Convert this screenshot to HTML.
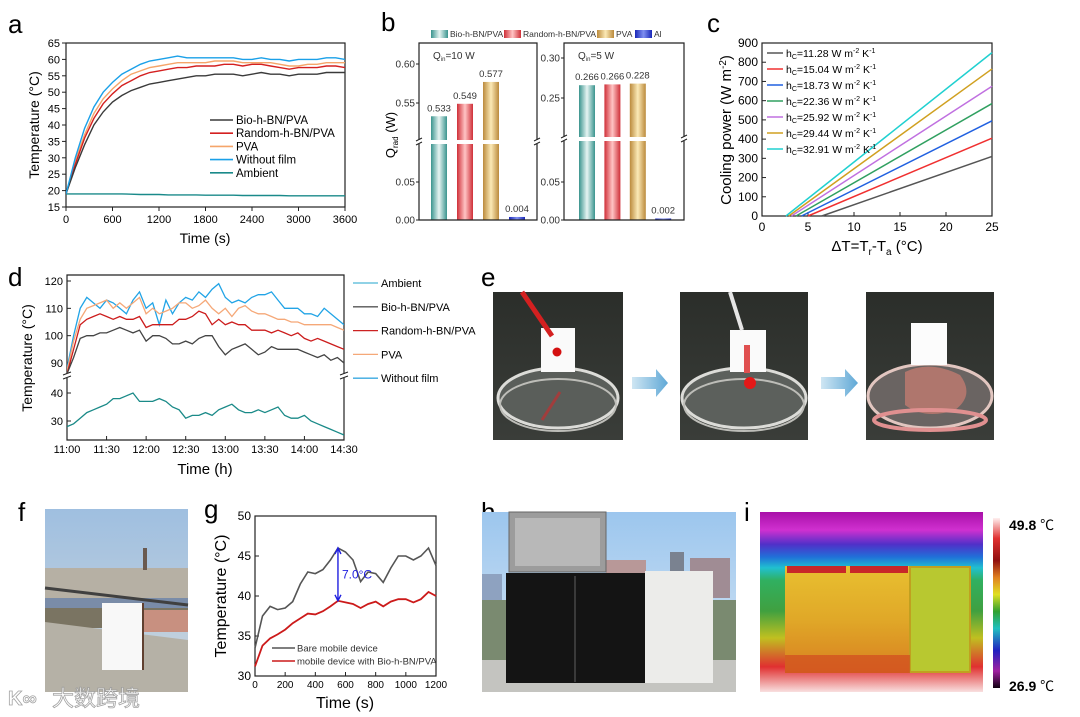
<!DOCTYPE html>
<html><head><meta charset="utf-8"><style>
html,body{margin:0;padding:0;background:#fff;}
svg{display:block;font-family:"Liberation Sans","Noto Sans CJK SC",sans-serif;}
</style></head><body>
<svg id="fig" width="1080" height="717" viewBox="0 0 1080 717" xmlns="http://www.w3.org/2000/svg">
<defs>
<linearGradient id="gTeal" x1="0" x2="1"><stop offset="0" stop-color="#3a948e"/><stop offset="0.5" stop-color="#e6f4f2"/><stop offset="1" stop-color="#3a948e"/></linearGradient>
<linearGradient id="gRed" x1="0" x2="1"><stop offset="0" stop-color="#cf2f38"/><stop offset="0.5" stop-color="#ffc4c4"/><stop offset="1" stop-color="#cf2f38"/></linearGradient>
<linearGradient id="gGold" x1="0" x2="1"><stop offset="0" stop-color="#bb8a3c"/><stop offset="0.5" stop-color="#fbe9b6"/><stop offset="1" stop-color="#bb8a3c"/></linearGradient>
<linearGradient id="gBlue" x1="0" x2="1"><stop offset="0" stop-color="#1a28b8"/><stop offset="0.5" stop-color="#8090f0"/><stop offset="1" stop-color="#1a28b8"/></linearGradient>
<linearGradient id="gArrow" x1="0" x2="1"><stop offset="0" stop-color="#cfe6f3"/><stop offset="1" stop-color="#5fa8d6"/></linearGradient>
<linearGradient id="gPhotoE" x1="0" y1="0" x2="0" y2="1"><stop offset="0" stop-color="#2b2e2a"/><stop offset="1" stop-color="#3a3d39"/></linearGradient>
<linearGradient id="gSkyF" x1="0" y1="0" x2="0" y2="1"><stop offset="0" stop-color="#9fbfe0"/><stop offset="1" stop-color="#cdd6dc"/></linearGradient>
<linearGradient id="gSkyH" x1="0" y1="0" x2="0" y2="1"><stop offset="0" stop-color="#9cc6ee"/><stop offset="1" stop-color="#d9e8f4"/></linearGradient>
<linearGradient id="gThermal" x1="0" y1="0" x2="0" y2="1">
<stop offset="0" stop-color="#a810a8"/><stop offset="0.1" stop-color="#d030d0"/><stop offset="0.18" stop-color="#5030c8"/><stop offset="0.25" stop-color="#2070d8"/><stop offset="0.31" stop-color="#20c0d0"/><stop offset="0.38" stop-color="#30b060"/><stop offset="0.55" stop-color="#40a040"/><stop offset="0.7" stop-color="#c0c020"/><stop offset="0.86" stop-color="#e03030"/><stop offset="1" stop-color="#f8e0e0"/></linearGradient>
<linearGradient id="gCbar" x1="0" y1="0" x2="0" y2="1">
<stop offset="0" stop-color="#fff0f0"/><stop offset="0.12" stop-color="#e03030"/><stop offset="0.25" stop-color="#901010"/><stop offset="0.35" stop-color="#e08020"/><stop offset="0.45" stop-color="#e0e020"/><stop offset="0.55" stop-color="#30a030"/><stop offset="0.65" stop-color="#20c0c0"/><stop offset="0.78" stop-color="#2020c0"/><stop offset="0.9" stop-color="#a020a0"/><stop offset="1" stop-color="#100010"/></linearGradient>
<linearGradient id="gBox" x1="0" y1="0" x2="0" y2="1"><stop offset="0" stop-color="#e8c030"/><stop offset="0.5" stop-color="#e0a828"/><stop offset="1" stop-color="#d88020"/></linearGradient>
<clipPath id="clipA"><rect x="66" y="43" width="279" height="164"/></clipPath>
<clipPath id="clipDU"><rect x="67" y="275" width="277" height="100"/></clipPath>
<clipPath id="clipDL"><rect x="67" y="378" width="277" height="62"/></clipPath>
</defs>

<g font-size="26" fill="#000">
<text x="8" y="33">a</text>
<text x="381" y="31">b</text>
<text x="707" y="32">c</text>
<text x="8" y="286">d</text>
<text x="481" y="286">e</text>
<text x="18" y="521">f</text>
<text x="204" y="518">g</text>
<text x="481" y="521">h</text>
<text x="744" y="521">i</text>
</g>

<g id="pa"></g>
<g id="pb"></g>
<g id="pc"></g>
<g id="pd"></g>
<g id="pg"></g>

<g>
 <g>
  <rect x="493" y="292" width="130" height="148" fill="url(#gPhotoE)"/>
  <ellipse cx="558" cy="398" rx="60" ry="30" fill="#5a5e5a" stroke="#dcdcd8" stroke-width="3"/>
  <ellipse cx="558" cy="405" rx="58" ry="26" fill="none" stroke="#bdbdb8" stroke-width="2"/>
  <rect x="541" y="328" width="34" height="44" fill="#fafafa"/>
  <line x1="522" y1="292" x2="552" y2="336" stroke="#d42020" stroke-width="5"/>
  <circle cx="557" cy="352" r="4.5" fill="#d41010"/>
  <line x1="560" y1="392" x2="542" y2="420" stroke="#c03030" stroke-width="3" opacity="0.7"/>
 </g>
 <polygon points="632,377 656,377 656,369 668,383 656,397 656,389 632,389" fill="url(#gArrow)"/>
 <g>
  <rect x="680" y="292" width="128" height="148" fill="url(#gPhotoE)"/>
  <ellipse cx="744" cy="398" rx="62" ry="30" fill="#5c605c" stroke="#dcdcd8" stroke-width="3"/>
  <ellipse cx="744" cy="405" rx="60" ry="26" fill="none" stroke="#bdbdb8" stroke-width="2"/>
  <rect x="730" y="330" width="36" height="42" fill="#fafafa"/>
  <line x1="730" y1="292" x2="742" y2="330" stroke="#e6e6e6" stroke-width="4"/>
  <rect x="744" y="345" width="6" height="28" fill="#e05050"/>
  <circle cx="750" cy="383" r="6" fill="#e41818"/>
 </g>
 <polygon points="821,377 845,377 845,369 858,383 845,397 845,389 821,389" fill="url(#gArrow)"/>
 <g>
  <rect x="866" y="292" width="128" height="148" fill="url(#gPhotoE)"/>
  <ellipse cx="930" cy="396" rx="62" ry="32" fill="#6a6462" stroke="#e2c6c0" stroke-width="3"/>
  <path d="M905 372 Q930 360 960 375 Q975 395 955 410 Q925 420 905 405 Z" fill="#c07a70" opacity="0.8"/>
  <ellipse cx="930" cy="420" rx="56" ry="10" fill="none" stroke="#e09090" stroke-width="4"/>
  <rect x="911" y="323" width="36" height="42" fill="#fcfcfc"/>
 </g>
</g>

<g>
 <rect x="45" y="509" width="143" height="183" fill="url(#gSkyF)"/>
 <rect x="45" y="568" width="143" height="32" fill="#b6b0a4"/>
 <rect x="143" y="548" width="4" height="22" fill="#6a5a50"/>
 <rect x="45" y="598" width="143" height="12" fill="#7a8ca8"/>
 <rect x="45" y="608" width="143" height="20" fill="#7a7462"/>
 <rect x="140" y="610" width="48" height="22" fill="#c89080"/>
 <polygon points="45,622 188,640 188,692 45,692" fill="#b5b1a6"/>
 <line x1="45" y1="588" x2="188" y2="605" stroke="#404040" stroke-width="3"/>
 <rect x="102" y="603" width="40" height="67" fill="#f8f8f8"/>
 <line x1="143" y1="603" x2="143" y2="670" stroke="#604030" stroke-width="2"/>
</g>
<g opacity="0.9">
 <text x="8" y="705" font-size="20" fill="#fff" stroke="#9a9a9a" stroke-width="0.8" font-weight="bold">K∞</text>
 <text x="52" y="706" font-size="22" fill="#fff" stroke="#9a9a9a" stroke-width="0.8">大数跨境</text>
</g>

<g>
 <rect x="482" y="512" width="254" height="180" fill="url(#gSkyH)"/>
 <rect x="482" y="574" width="20" height="50" fill="#8ea2c0"/>
 <rect x="606" y="560" width="40" height="35" fill="#b89898"/>
 <rect x="670" y="552" width="14" height="45" fill="#7a8290"/>
 <rect x="690" y="558" width="40" height="40" fill="#a08c94"/>
 <rect x="482" y="600" width="254" height="60" fill="#7a8a70"/>
 <rect x="482" y="660" width="254" height="32" fill="#c4c4c0"/>
 <rect x="509" y="512" width="97" height="60" fill="#9c9c9c" stroke="#666" stroke-width="1"/>
 <rect x="515" y="518" width="85" height="48" fill="#b8b8b8"/>
 <rect x="506" y="573" width="139" height="110" fill="#141414"/>
 <line x1="575" y1="576" x2="575" y2="682" stroke="#3a3a3a" stroke-width="2"/>
 <rect x="645" y="571" width="68" height="112" fill="#ececea"/>
</g>

<g>
 <rect x="760" y="512" width="223" height="180" fill="url(#gThermal)"/>
 <rect x="785" y="566" width="63" height="107" fill="url(#gBox)"/>
 <rect x="848" y="566" width="62" height="107" fill="url(#gBox)"/>
 <rect x="910" y="567" width="60" height="105" fill="#b8c830" stroke="#c0a020" stroke-width="2"/>
 <rect x="787" y="566" width="59" height="7" fill="#c82828"/>
 <rect x="850" y="566" width="58" height="7" fill="#c82828"/>
 <rect x="785" y="655" width="125" height="18" fill="#d04020" opacity="0.6"/>
 <rect x="993" y="518" width="7" height="170" fill="url(#gCbar)"/>
 <text x="1009" y="530" font-size="14" font-weight="bold">49.8 <tspan font-weight="normal">℃</tspan></text>
 <text x="1009" y="691" font-size="14" font-weight="bold">26.9 <tspan font-weight="normal">℃</tspan></text>
</g>

<script>
const NS='http://www.w3.org/2000/svg';
function mk(parent, tag, attrs, text){const e=document.createElementNS(NS,tag);for(const k in attrs)e.setAttribute(k,attrs[k]);if(text!=null)e.textContent=text;parent.appendChild(e);return e;}
function spans(t, parts){parts.forEach(p=>{const s=document.createElementNS(NS,'tspan');s.textContent=p[0];if(p[1])s.setAttribute('font-size',p[1]);if(p[2])s.setAttribute('dy',p[2]);t.appendChild(s);});}

const aTimes = [0,120,240,360,480,600,720,840,960,1080,1200,1320,1440,1560,1680,1800,1920,2040,2160,2280,2400,2520,2640,2760,2880,3000,3120,3240,3360,3480,3600];
const aBio = [19,27,34,40,44,47,49,50.5,51.5,52.5,53,53.5,54,54.5,55,55,55.5,55.5,55.5,55,55.5,56,55.5,55.5,55,55.5,55.5,55.5,56,56,56];
const aRandom = [19,28,36,42,46.5,49.5,52,53.5,55,56,56.5,57,57.5,57.5,58,58,58,58.5,58.5,58,58.5,58.5,58,57.5,57,57.5,57.5,57.5,58,58,57.5];
const aPVA = [19,29,37,43.5,48,51,53.5,55.5,56.5,57.5,58,58.5,59,59,59,59,59.5,59.5,59.5,59,59,59,59,58.5,58,58,58.5,58.5,59,59,59];
const aWithout = [19,30,39,45.5,50,53,55.5,57,58.5,59.5,60,60.5,61,60.5,60.5,60.5,60.5,60.5,60.5,60,60,60.5,60,60,59.5,60,60,60,60.5,60.5,60];
const aAmbient = [19,19,19,19,19,19,19,18.9,18.8,18.8,18.8,18.7,18.7,18.7,18.7,18.6,18.6,18.6,18.6,18.5,18.5,18.5,18.5,18.5,18.4,18.4,18.4,18.4,18.4,18.4,18.4];
const aXTicks = [0,600,1200,1800,2400,3000,3600];
const aYTicks = [15,20,25,30,35,40,45,50,55,60,65];
const aNames = ['Bio-h-BN/PVA','Random-h-BN/PVA','PVA','Without film','Ambient'];

const bCats = ['Bio-h-BN/PVA','Random-h-BN/PVA','PVA','Al'];
const bVals10 = [0.533,0.549,0.577,0.004];
const bVals5 = [0.266,0.267,0.268,0.002];
const bLabels10 = ['0.533','0.549','0.577','0.004'];
const bLabels5 = ['0.266','0.266','0.228','0.002'];

const cHc = ['11.28','15.04','18.73','22.36','25.92','29.44','32.91'];
const cIntercepts = [6.5,5.0,4.3,3.7,3.2,2.9,2.6];
const cEndValues = [310,405,495,585,675,765,850];
const cXTicks = [0,5,10,15,20,25];
const cYTicks = [0,100,200,300,400,500,600,700,800,900];

const dWithout = [88,100,110,114,112,110,113,112,110,108,113,116,110,112,104,113,108,112,114,113,116,114,117,119,114,112,113,112,114,115,115,116,113,110,110,110,108,108,107,110,108,106,104];
const dPVA = [87,98,106,110,111,112,113,110,112,110,112,114,108,110,108,109,110,112,112,110,111,113,110,108,110,107,110,111,109,108,108,107,106,106,105,105,104,104,104,104,104,103,102];
const dRandom = [86,95,104,106,107,108,107,106,107,106,106,107,103,104,104,104,104,106,106,107,109,108,104,106,104,105,104,104,102,102,102,101,102,101,100,101,99,98,99,98,97,96,95];
const dBio = [86,92,99,100,100,101,101,102,103,102,101,102,98,100,100,99,97,97,98,97,99,100,100,96,93,95,96,97,95,93,94,96,95,95,95,95,94,93,92,93,91,92,90];
const dAmbient = [28,29,31,33,34,35,36,38,38,39,40,37,37,37,38,37,35,34,31,32,32,33,32,34,35,36,34,33,33,34,33,34,35,32,31,31,32,30,29,28,27,26,25];
const dXLabels = ['11:00','11:30','12:00','12:30','13:00','13:30','14:00','14:30'];
const dYUpper = [90,100,110,120];
const dYLower = [30,40];
const dLegend = ['Ambient','Bio-h-BN/PVA','Random-h-BN/PVA','PVA','Without film'];

const gTimes = [0,50,100,150,200,250,300,350,400,450,500,550,600,650,700,750,800,850,900,950,1000,1050,1100,1150,1200];
const gBare = [33.5,37.5,38.7,38.3,38.5,39.3,41.5,43,42.8,43.3,44.5,46,45.5,44.5,41.8,43,42.8,41.7,43.5,45,45,44.5,45,46,43.8];
const gCoated = [31.2,33.8,34.7,35.2,35.8,36.6,37.2,37.8,37.7,38.1,38.7,39.4,39.2,39,38.5,39,39.3,38.7,39.3,39.6,39.6,39.2,39.6,40.5,40];
const gXTicks = [0,200,400,600,800,1000,1200];
const gYTicks = [30,35,40,45,50];
const gDiffTime = 550;

function path(xs, ys, fx, fy){return xs.map((x,i)=>(i?'L':'M')+fx(x).toFixed(1)+' '+fy(ys[i]).toFixed(1)).join(' ');}

(function(){
const g=document.getElementById('pa');
const xa=t=>66+t/3600*279, ya=v=>207-(v-15)/50*164;
const frame=mk(g,'rect',{x:66,y:43,width:279,height:164,fill:'none',stroke:'#222','stroke-width':1.2});


aXTicks.forEach(t=>{
 mk(g,'line',{x1:xa(t),x2:xa(t),y1:207,y2:211,stroke:'#222'});
 const tl=mk(g,'text',{x:xa(t),y:223,'font-size':11,'text-anchor':'middle'},String(t));
 
 
});
aYTicks.forEach(v=>{
 mk(g,'line',{x1:62,x2:66,y1:ya(v),y2:ya(v),stroke:'#222'});
 const tl=mk(g,'text',{x:60,y:ya(v)+4,'font-size':11,'text-anchor':'end'},String(v));
 
 
});
const xt=mk(g,'text',{x:205,y:243,'font-size':14,'text-anchor':'middle'},'Time (s)');


const yt=mk(g,'text',{x:0,y:0,'font-size':14,'text-anchor':'middle',transform:'translate(39,125) rotate(-90)'},'Temperature (°C)');


const series=[aBio,aRandom,aPVA,aWithout,aAmbient];
const cols=['#3a3a3a','#d42020','#f5a56a','#1aa0e8','#1a8a8a'];
[4,2,1,0,3].forEach(k=>{
 const p=mk(g,'path',{d:path(aTimes,series[k],xa,ya),fill:'none',stroke:cols[k],'stroke-width':1.4,'clip-path':'url(#clipA)'});
 
 
});
aNames.forEach((n,k)=>{
 const y=120+k*13.2;
 mk(g,'line',{x1:210,x2:233,y1:y,y2:y,stroke:cols[k],'stroke-width':1.6});
 const t=mk(g,'text',{x:236,y:y+4,'font-size':11.5},n);
 
 
});
})();

(function(){
const g=document.getElementById('pb');
const fills=['url(#gTeal)','url(#gRed)','url(#gGold)','url(#gBlue)'];
const legX=[431,504,597,635];
bCats.forEach((c,k)=>{
 mk(g,'rect',{x:legX[k],y:30,width:17,height:8,fill:fills[k]});
 const t=mk(g,'text',{x:legX[k]+19,y:37,'font-size':8.5,fill:'#333'},c);
 
 
});
function sub(opt){
 const {x0,x1,vals,labels,yUp,gapTop,ticks,tickLabels,title,xb}=opt;
 const yLow=v=>220-v*760;
 const ys=v=>v>=0.15?yUp(v):yLow(v);
 vals.forEach((v,k)=>{
  const top=ys(v);
  const r=mk(g,'rect',{x:xb(k)-8,y:top,width:16,height:220-top,fill:fills[k]});
  
  
  const t=mk(g,'text',{x:xb(k),y:top-5,'font-size':9.5,'text-anchor':'middle',fill:'#333'},labels[k]);
  
  
 });
 mk(g,'rect',{x:x0+1,y:gapTop,width:x1-x0-2,height:4,fill:'#fff'});
 const f=mk(g,'path',{d:`M${x0} ${gapTop} V43 H${x1} V${gapTop} M${x0} ${gapTop+4} V220 H${x1} V${gapTop+4}`,fill:'none',stroke:'#222','stroke-width':1.2});
 
 
 [x0,x1].forEach(x=>{mk(g,'path',{d:`M${x-3} ${gapTop+1} l6 -3 M${x-3} ${gapTop+5} l6 -3`,stroke:'#222','stroke-width':1});});
 ticks.forEach((v,k)=>{
  const y=ys(v);
  mk(g,'line',{x1:x0-3,x2:x0,y1:y,y2:y,stroke:'#222'});
  const t=mk(g,'text',{x:x0-4,y:y+3.5,'font-size':10,'text-anchor':'end',fill:'#333'},tickLabels[k]);
  
  
 });
 const q=mk(g,'text',{x:x0+14,y:59,'font-size':10,fill:'#333'});
 
 
 spans(q,[['Q'],['in',6,2],[title,null,-2]]);
}
sub({x0:419,x1:537,vals:bVals10,labels:bLabels10,yUp:v=>103-(v-0.55)*780,gapTop:140,ticks:[0,0.05,0.55,0.6],tickLabels:['0.00','0.05','0.55','0.60'],title:'=10 W',xb:k=>439+k*26});
sub({x0:564,x1:684,vals:bVals5,labels:bLabels5,yUp:v=>98-(v-0.25)*800,gapTop:137,ticks:[0,0.05,0.25,0.3],tickLabels:['0.00','0.05','0.25','0.30'],title:'=5 W',xb:k=>587+k*25.4});
const yt=mk(g,'text',{'font-size':13,'text-anchor':'middle',transform:'translate(395,135) rotate(-90)'});


spans(yt,[['Q'],['rad',8,3],[' (W)',null,-3]]);
})();

(function(){
const g=document.getElementById('pc');
const xc=v=>762+v/25*230, yc=v=>216-v/900*173;
const cols=['#555555','#f03030','#2060e0','#30a060','#c070e0','#d0a020','#20d0d0'];
const fr=mk(g,'rect',{x:762,y:43,width:230,height:173,fill:'none',stroke:'#222','stroke-width':1.2});


cXTicks.forEach(v=>{
 mk(g,'line',{x1:xc(v),x2:xc(v),y1:216,y2:212,stroke:'#222'});
 const t=mk(g,'text',{x:xc(v),y:231,'font-size':12,'text-anchor':'middle'},String(v));
 
 
});
cYTicks.forEach(v=>{
 mk(g,'line',{x1:762,x2:766,y1:yc(v),y2:yc(v),stroke:'#222'});
 const t=mk(g,'text',{x:758,y:yc(v)+4,'font-size':12,'text-anchor':'end'},String(v));
 
 
});
cHc.forEach((h,k)=>{
 const l=mk(g,'line',{x1:xc(cIntercepts[k]),y1:yc(0),x2:xc(25),y2:yc(cEndValues[k]),stroke:cols[k],'stroke-width':1.5});
 
 
 const y=53+k*16;
 mk(g,'line',{x1:767,x2:783,y1:y,y2:y,stroke:cols[k],'stroke-width':1.5});
 const t=mk(g,'text',{x:786,y:y+4,'font-size':10.5});
 
 
 spans(t,[['h'],['C',7,2],['='+h+' W m',null,-2],['-2',7,-4],[' K',null,4],['-1',7,-4]]);
});
const xt=mk(g,'text',{x:877,y:251,'font-size':15,'text-anchor':'middle'});


spans(xt,[['ΔT=T'],['r',10,4],['-T',null,-4],['a',10,4],[' (°C)',null,-4]]);
const yt=mk(g,'text',{'font-size':15,'text-anchor':'middle',transform:'translate(731,130) rotate(-90)'});


spans(yt,[['Cooling power (W m'],['-2',10,-5],[')',null,5]]);
})();

(function(){
const g=document.getElementById('pd');
const xd=i=>67+i*5/210*277;
const yu=v=>363-(v-90)*2.733;
const yl=v=>421-(v-30)*2.8;
const idx=dBio.map((_,i)=>i);
const f=mk(g,'path',{d:'M67 374 V275 H344 V374 M67 378 V440 H344 V378',fill:'none',stroke:'#222','stroke-width':1.2});


[67,344].forEach(x=>{mk(g,'path',{d:`M${x-4} ${375} l8 -3 M${x-4} ${379} l8 -3`,stroke:'#222'});});
dXLabels.forEach((s,k)=>{
 const x=67+k*277/7;
 mk(g,'line',{x1:x,x2:x,y1:440,y2:436,stroke:'#222'});
 const t=mk(g,'text',{x:x,y:453,'font-size':11,'text-anchor':'middle'},s);
 
 
});
dYUpper.forEach(v=>{
 mk(g,'line',{x1:67,x2:71,y1:yu(v),y2:yu(v),stroke:'#222'});
 const t=mk(g,'text',{x:63,y:yu(v)+4,'font-size':11,'text-anchor':'end'},String(v));
 
 
});
dYLower.forEach(v=>{
 mk(g,'line',{x1:67,x2:71,y1:yl(v),y2:yl(v),stroke:'#222'});
 const t=mk(g,'text',{x:63,y:yl(v)+4,'font-size':11,'text-anchor':'end'},String(v));
 
 
});
const up=[[dWithout,'#22a4e6','without-film'],[dPVA,'#f5a878','pva'],[dRandom,'#cc1c1c','random-h-bn-pva'],[dBio,'#444','bio-h-bn-pva']];
up.forEach(s=>{
 const p=mk(g,'path',{d:path(idx,s[0],xd,yu),fill:'none',stroke:s[1],'stroke-width':1.3,'clip-path':'url(#clipDU)'});
 
 
});
const pa=mk(g,'path',{d:path(idx,dAmbient,xd,yl),fill:'none',stroke:'#1a8a88','stroke-width':1.3,'clip-path':'url(#clipDL)'});


const lc=['#4db6d6','#555','#cc2222','#f5a878','#3aa8e0'];
dLegend.forEach((n,k)=>{
 const y=283+k*23.8;
 mk(g,'line',{x1:353,x2:378,y1:y,y2:y,stroke:lc[k],'stroke-width':1.3});
 const t=mk(g,'text',{x:381,y:y+4,'font-size':11},n);
 
 
});
const xt=mk(g,'text',{x:205,y:474,'font-size':15,'text-anchor':'middle'},'Time (h)');


const yt=mk(g,'text',{'font-size':14,'text-anchor':'middle',transform:'translate(32,358) rotate(-90)'},'Temperature (°C)');


})();

(function(){
const g=document.getElementById('pg');
const xg=t=>255+t/1200*181, yg=v=>676-(v-30)/20*160;
const fr=mk(g,'rect',{x:255,y:516,width:181,height:160,fill:'none',stroke:'#222','stroke-width':1.2});


gXTicks.forEach(t=>{
 mk(g,'line',{x1:xg(t),x2:xg(t),y1:676,y2:672,stroke:'#222'});
 const l=mk(g,'text',{x:xg(t),y:688,'font-size':10,'text-anchor':'middle'},String(t));
 
 
});
gYTicks.forEach(v=>{
 mk(g,'line',{x1:255,x2:259,y1:yg(v),y2:yg(v),stroke:'#222'});
 const l=mk(g,'text',{x:251,y:yg(v)+4,'font-size':12,'text-anchor':'end'},String(v));
 
 
});
const p1=mk(g,'path',{d:path(gTimes,gBare,xg,yg),fill:'none',stroke:'#555','stroke-width':1.6});


const p2=mk(g,'path',{d:path(gTimes,gCoated,xg,yg),fill:'none',stroke:'#cc1a1a','stroke-width':1.8});


const di=gTimes.indexOf(gDiffTime);
const xa=xg(gDiffTime), y1=yg(gBare[di]), y2=yg(gCoated[di]);
const ar=mk(g,'path',{d:`M${xa} ${y1+1} V${y2-1} M${xa-3} ${y1+6} L${xa} ${y1} L${xa+3} ${y1+6} M${xa-3} ${y2-6} L${xa} ${y2} L${xa+3} ${y2-6}`,fill:'none',stroke:'#2020e0','stroke-width':1.4});


const dt=mk(g,'text',{x:xa+4,y:(y1+y2)/2+4,'font-size':12,fill:'#2020e0'},(gBare[di]-gCoated[di]+0.4).toFixed(1)+'°C');


const leg=[['Bare mobile device','#555'],['mobile device with Bio-h-BN/PVA','#cc1a1a']];
leg.forEach((e,k)=>{
 const y=648+k*13;
 mk(g,'line',{x1:272,x2:295,y1:y,y2:y,stroke:e[1],'stroke-width':1.6});
 const t=mk(g,'text',{x:297,y:y+3.5,'font-size':9.5,fill:'#333'},e[0]);
 
 
});
const xt=mk(g,'text',{x:345,y:708,'font-size':16,'text-anchor':'middle'},'Time (s)');


const yt=mk(g,'text',{'font-size':16,'text-anchor':'middle',transform:'translate(226,596) rotate(-90)'},'Temperature (°C)');


})();
</script>
</svg>
</body></html>
